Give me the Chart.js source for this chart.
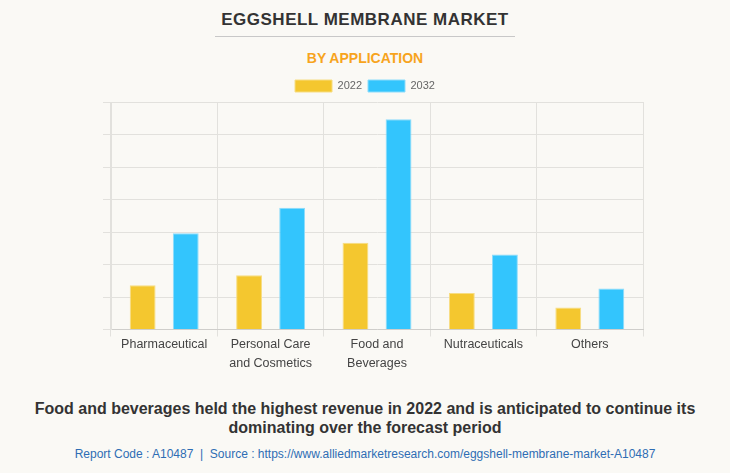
<!DOCTYPE html>
<html>
<head>
<meta charset="utf-8">
<script src="https://cdn.jsdelivr.net/npm/chart.js@4"></script>
<style>
  body { margin: 0; background: #faf9f5; font-family: "Liberation Sans", Arial, sans-serif; }
  .page { position: relative; width: 730px; height: 473px; overflow: hidden; }
  .title { position: absolute; top: 10px; left: 0; width: 730px; text-align: center;
           font-size: 17px; font-weight: bold; color: #333; letter-spacing: 0.5px; }
  .rule { position: absolute; top: 36px; left: 215px; width: 300px; height: 1px; background: #c8c8c8; }
  .subtitle { position: absolute; top: 50px; left: 0; width: 730px; text-align: center;
              font-size: 14px; font-weight: bold; color: #f7a41d; }
  .chart-box { position: absolute; top: 74px; left: 0; width: 730px; height: 298px; }
  .caption { position: absolute; top: 399px; left: 0; width: 730px; text-align: center;
             font-size: 16px; font-weight: bold; color: #333; line-height: 19px; }
  .source { position: absolute; top: 447px; left: 0; width: 730px; text-align: center;
            font-size: 12px; color: #2e6db4; }
</style>
</head>
<body>
<div class="page">
  <div class="title">EGGSHELL MEMBRANE MARKET</div>
  <div class="rule"></div>
  <div class="subtitle">BY APPLICATION</div>
  <div class="chart-box"><canvas id="marketChart"></canvas></div>
  <div class="caption">Food and beverages held the highest revenue in 2022 and is anticipated to continue its<br>dominating over the forecast period</div>
  <div class="source">Report Code : A10487&nbsp; |&nbsp; Source : https://www.alliedmarketresearch.com/eggshell-membrane-market-A10487</div>
</div>
<script>
// values (no axis scale shown, relative units)
const categories = ['Pharmaceutical', ['Personal Care', 'and Cosmetics'], ['Food and', 'Beverages'], 'Nutraceuticals', 'Others'];
const values2022 = [1.36, 1.67, 2.67, 1.12, 0.68];
const values2032 = [2.96, 3.75, 6.47, 2.31, 1.26];

const ctx = document.getElementById('marketChart').getContext('2d');
new Chart(ctx, {
    type: 'bar',
    data: {
        labels: categories,
        datasets: [{
            label: '2022',
            data: values2022,
            backgroundColor: '#f4c72f',
            borderColor: '#f7dd82',
            borderWidth: 1,
            categoryPercentage: 0.81,
            barPercentage: 0.6
        }, {
            label: '2032',
            data: values2032,
            backgroundColor: '#33c5fd',
            borderColor: '#8ddcfb',
            borderWidth: 1,
            categoryPercentage: 0.81,
            barPercentage: 0.6
        }]
    },
    options: {
        responsive: true,
        maintainAspectRatio: false,
        animation: false,
        layout: { padding: { left: 87, right: 87, top: 0, bottom: 0 } },
        plugins: {
            legend: {
                position: 'top',
                labels: {
                    boxWidth: 37,
                    boxHeight: 12,
                    padding: 6,
                    color: '#666',
                    font: { family: '"Liberation Sans", Arial, sans-serif', size: 11 }
                }
            },
            tooltip: { enabled: false }
        },
        scales: {
            x: {
                grid: { color: '#e2e1dd', tickLength: 7 },
                border: { color: '#cfcecb' },
                ticks: {
                    color: '#444',
                    padding: -1,
                    font: { family: '"Liberation Sans", Arial, sans-serif', size: 12.5, lineHeight: 1.5 }
                }
            },
            y: {
                min: 0,
                max: 7,
                ticks: { display: false, stepSize: 1 },
                grid: { color: '#e2e1dd', tickLength: 8 },
                border: { display: true, color: '#e2e1dd' },
                afterFit: (scale) => { scale.width = 24; }
            }
        }
    }
});
</script>
</body>
</html>
